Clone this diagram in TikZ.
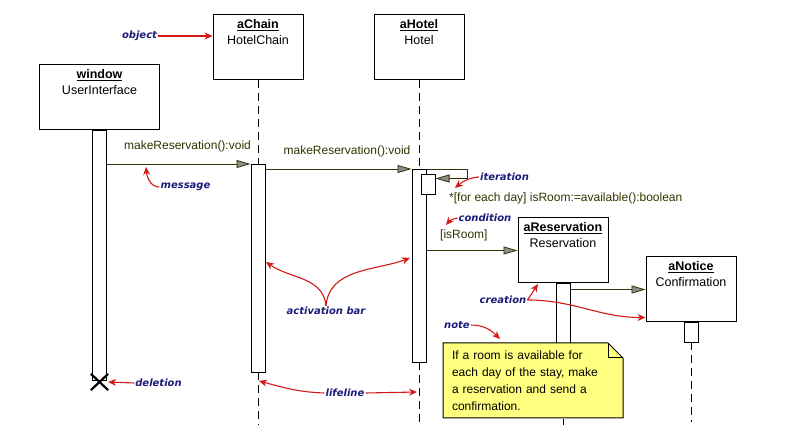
\documentclass[tikz,border=0pt]{standalone}
\usepackage{fontspec}
\setmainfont{Liberation Sans}
\newfontfamily\annfont{DejaVu Sans}
\usetikzlibrary{arrows.meta,positioning,shapes.misc}
\definecolor{sqolive}{HTML}{333300}
\definecolor{sqgray}{HTML}{8C8C8C}
\definecolor{sqnavy}{HTML}{1C1C78}
\definecolor{sqred}{HTML}{D41818}
\definecolor{sqyellow}{HTML}{FFFF80}
\newcommand{\objlabel}[2]{\underline{\textbf{#1}}\\#2}
\tikzset{
  sqobject/.style={draw=black,line width=1pt,fill=white,
                   minimum width=90pt,minimum height=65pt,inner sep=0pt},
  sqobjtext/.style={anchor=north,align=center,inner sep=2pt,yshift=-3pt,
                    font=\fontsize{12.5}{16}\selectfont},
  sqbar/.style={draw=black,line width=1pt,fill=white,anchor=north,
                minimum width=14pt,inner sep=0pt},
  sqlife/.style={line width=1pt,dash pattern=on 8pt off 5pt},
  sqmsg/.style={draw=sqolive,line width=0.8pt,
                -{Triangle[length=14pt,width=8pt,fill=sqgray]}},
  sqmsgtext/.style={text=sqolive,inner sep=1pt,
                    font=\fontsize{12}{14}\selectfont},
  sqann/.style={text=sqnavy,inner sep=1pt,
                font=\annfont\fontsize{10}{12}\selectfont\bfseries\itshape},
  sqhint/.style={draw=sqred,line width=1.1pt,-{Stealth[length=8pt,width=7pt]}},
  sqnoteline/.style={draw=black,line width=1pt,fill=sqyellow},
  sqnotetext/.style={align=left,text width=162pt,inner sep=0pt,
                     font=\fontsize{12}{17}\selectfont},
  sqkill/.style={draw=black,cross out,line width=2.2pt,
                 minimum width=15pt,minimum height=14pt,inner sep=0pt}
}
\begin{document}
\begin{tikzpicture}[x=1pt,y=-1pt]
  \useasboundingbox (0,0) rectangle (812,438);

  % objects
  \node[sqobject,minimum width=120pt,
        label={[sqobjtext]north:{\objlabel{window}{UserInterface}}}] (window) at (99.5,97.5) {};
  \node[sqobject,label={[sqobjtext]north:{\objlabel{aChain}{HotelChain}}}] (achain) at (258,47.5) {};
  \node[sqobject,label={[sqobjtext]north:{\objlabel{aHotel}{Hotel}}}] (ahotel) at (419,47.5) {};
  \node[sqobject,label={[sqobjtext]north:{\objlabel{aReservation}{Reservation}}}] (aresv) at (563,250.5) {};
  \node[sqobject,label={[sqobjtext]north:{\objlabel{aNotice}{Confirmation}}}] (anotice) at (691,289.5) {};

  % lifeline ends
  \coordinate (chainend) at (258,425);
  \coordinate (hotelend) at (419,425);
  \coordinate (resvend) at (563,425);
  \coordinate (noticeend) at (691,422);

  \draw[sqlife] (achain.south) -- (258,164);
  \draw[sqlife] (ahotel.south) -- (419,169);
  \draw[sqlife] (258,372) -- (chainend);
  \draw[sqlife] (419,362) -- (hotelend);
  \draw[sqlife] (563,393) -- (resvend);
  \draw[sqlife] (691,342) -- (noticeend);

  % activation bars
  \node[sqbar,minimum height=250pt] (winbar) at (window.south) {};
  \node[sqbar,minimum height=208pt] (chainbar) at (258,164) {};
  \node[sqbar,minimum height=193pt] (hotelbar) at (419,169) {};
  \node[sqbar,minimum height=20pt] (iterbar) at (428,174) {};
  \node[sqbar,minimum height=110pt] (resvbar) at (aresv.south) {};
  \node[sqbar,minimum height=20pt] (noticebar) at (anotice.south) {};
  \node[sqkill] (kill) at (99.5,382) {};

  % messages
  \draw[sqmsg] (winbar.east |- chainbar.north) -- (chainbar.north west);
  \node[sqmsgtext] (msgone) at (187.5,146) {makeReservation():void};
  \draw[sqmsg] (chainbar.east |- hotelbar.north) -- (hotelbar.north west);
  \node[sqmsgtext] (msgtwo) at (347,151) {makeReservation():void};
  \draw[sqmsg] (hotelbar.north east) -- ++(41,0) |- ([yshift=6pt]iterbar.east);
  \node[sqmsgtext,anchor=west] (msgiter) at (448,198) {*[for each day] isRoom:=available():boolean};
  \node[sqmsgtext,anchor=west] (msgcond) at (439,235) {[isRoom]};
  \draw[sqmsg] (hotelbar.east |- aresv.west) -- (aresv.west);
  \draw[sqmsg] (resvbar.east |- anotice.west) -- (anotice.west);

  % note
  \coordinate (notenw) at (443,343);
  \coordinate (notene) at (623,343);
  \coordinate (notese) at (623,418);
  \draw[sqnoteline] (notenw) -- ([xshift=-15pt]notene) -- ([yshift=-15pt]notene)
    -- (notese) -- (notenw |- notese) -- cycle;
  \draw[line width=1pt] ([xshift=-15pt]notene) |- ([yshift=-15pt]notene);
  \node[sqnotetext] (note) at (533,380.5)
    {If a room is available for\\each day of the stay, make\\a reservation and send a\\confirmation.};

  % annotations
  \coordinate (msgtip) at (146,167);
  \coordinate (itertip) at (455,188);
  \coordinate (condtip) at (446,225);
  \coordinate (creattip) at (538,284);
  \coordinate (chaintip) at (266,262);
  \coordinate (hoteltip) at (410,258);
  \coordinate (notetip) at (500,339);
  \coordinate (lifetipa) at (259,381);
  \coordinate (lifetipb) at (417,392);

  \node[sqann] (objann) at (139.5,36) {object};
  \draw[sqhint] (objann.east) -- (achain.west |- objann.east);
  \node[sqann] (msgann) at (185.5,187) {message};
  \draw[sqhint] (msgann.west) to[out=180,in=-85] (msgtip);
  \node[sqann] (iterann) at (504.5,177) {iteration};
  \draw[sqhint] (iterann.west) to[out=185,in=40] (itertip);
  \node[sqann] (condann) at (485,218) {condition};
  \draw[sqhint] (condann.west) to[out=190,in=50] (condtip);
  \node[sqann] (creatann) at (503,300) {creation};
  \draw[sqhint] (creatann.east) -- (creattip);
  \draw[sqhint] (creatann.east) to[out=0,in=180] ([yshift=5pt]anotice.south west);
  \node[sqann] (actann) at (326,311) {activation bar};
  \draw[sqhint] (actann.north) to[out=95,in=-35] (chaintip);
  \draw[sqhint] (actann.north) to[out=85,in=200] (hoteltip);
  \node[sqann] (noteann) at (457,325) {note};
  \draw[sqhint] (noteann.east) to[out=0,in=135] (notetip);
  \node[sqann] (delann) at (158.5,383) {deletion};
  \draw[sqhint] (delann.west) -- (kill.east);
  \node[sqann] (lifeann) at (345,393) {lifeline};
  \draw[sqhint] (lifeann.west) to[out=178,in=-15] (lifetipa);
  \draw[sqhint] (lifeann.east) -- (lifetipb);
\end{tikzpicture}
\end{document}
